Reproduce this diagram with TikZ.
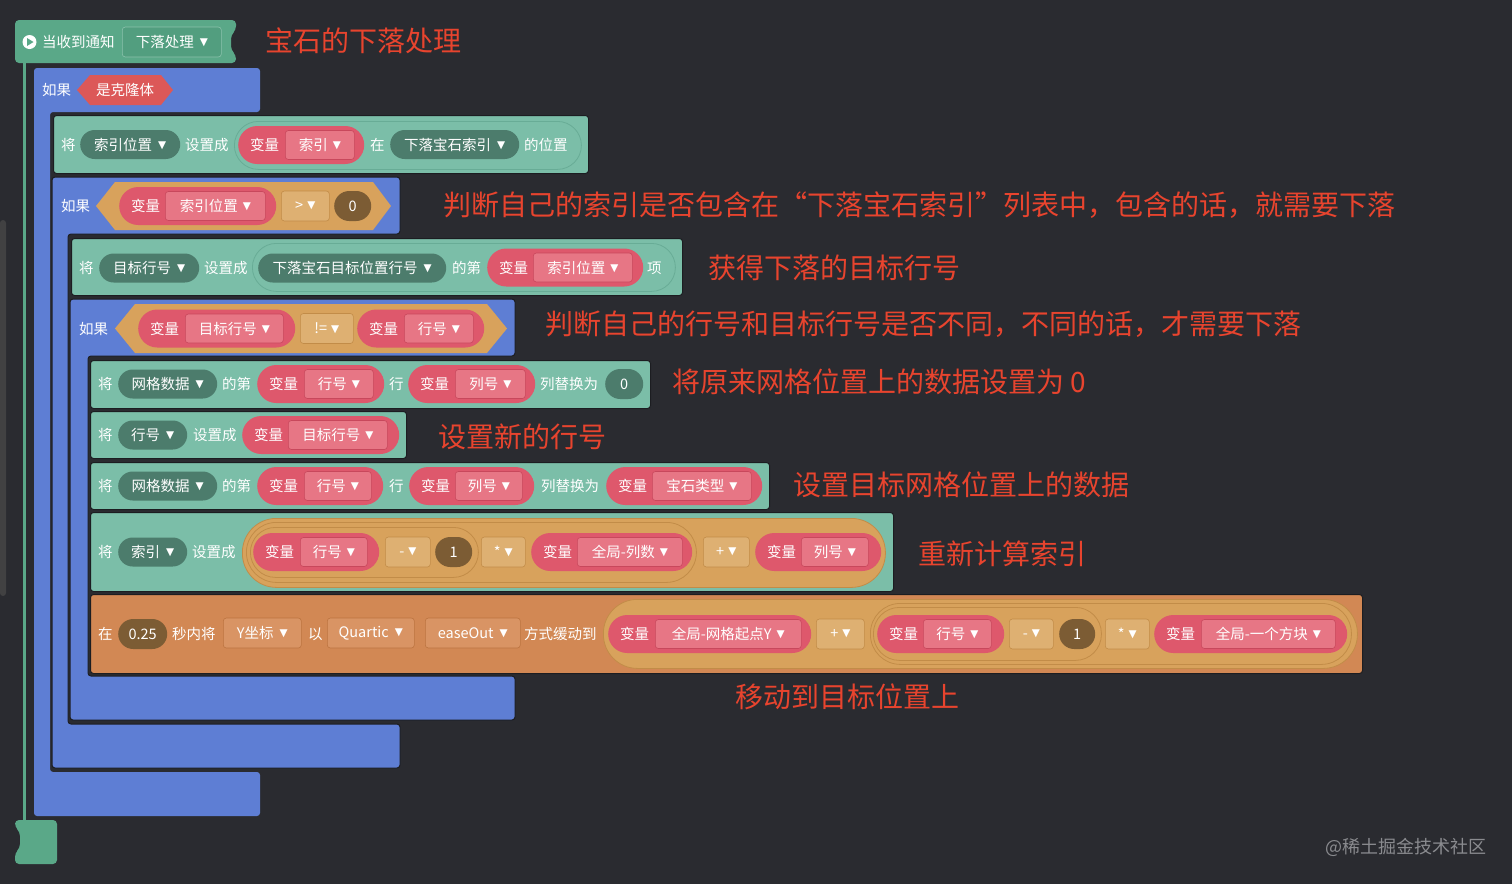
\documentclass[tikz,border=0pt]{standalone}
\usepackage{fontspec}
\setmainfont{Noto Sans CJK SC}
\newfontfamily\symf{DejaVu Sans}
\usepackage{tikz}
\newcommand\blkfont{\fontsize{14.5}{17}\selectfont}
\newcommand\dnarrow{\raisebox{1.8pt}{\symf\fontsize{10.5}{11}\selectfont ▼}}
\definecolor{bgc}{RGB}{42,43,48}
\definecolor{shadowc}{RGB}{28,29,33}
\definecolor{hatc}{RGB}{90,168,136}
\definecolor{hatdd}{RGB}{82,158,127}
\definecolor{ctrlc}{RGB}{94,126,212}
\definecolor{datac}{RGB}{123,190,168}
\definecolor{dataring}{RGB}{104,172,150}
\definecolor{ddc}{RGB}{76,124,108}
\definecolor{varc}{RGB}{222,88,108}
\definecolor{varin}{RGB}{231,118,133}
\definecolor{varedge}{RGB}{200,72,92}
\definecolor{opc}{RGB}{216,162,92}
\definecolor{opbox}{RGB}{222,176,114}
\definecolor{opedge}{RGB}{194,140,72}
\definecolor{numc}{RGB}{124,92,52}
\definecolor{tweenc}{RGB}{210,136,84}
\definecolor{tweenbox}{RGB}{217,148,100}
\definecolor{tweenedge}{RGB}{188,116,64}
\definecolor{boolc}{RGB}{220,88,88}
\definecolor{notec}{RGB}{232,68,46}
\definecolor{markc}{RGB}{138,139,143}
\tikzset{
  stmt/.style={fill=datac, draw=shadowc, line width=1pt, rounded corners=3pt, inner sep=0pt, anchor=north west},
  ring/.style={fill=datac, draw=dataring, line width=0.8pt, inner sep=0pt, anchor=north west},
  opring/.style={fill=opc, draw=opedge, line width=0.8pt, inner sep=0pt, anchor=north west},
  word/.style={text=white, inner sep=0pt, anchor=west, font=\blkfont},
  ddown/.style={fill=ddc, rounded corners=14.5pt, minimum height=29pt, inner sep=0pt, anchor=west, text=white, font=\blkfont},
  varpill/.style={fill=varc, rounded corners=19pt, minimum height=38pt, inner sep=0pt, anchor=west},
  varbox/.style={fill=varin, draw=varedge, line width=0.6pt, rounded corners=3pt, minimum height=29pt, inner sep=0pt, anchor=west, text=white, font=\blkfont},
  opfield/.style={fill=opbox, draw=opedge, line width=0.6pt, rounded corners=3pt, minimum height=30pt, inner sep=0pt, anchor=west, text=white, font=\blkfont},
  twfield/.style={fill=tweenbox, draw=tweenedge, line width=0.6pt, rounded corners=3pt, minimum height=30pt, inner sep=0pt, anchor=west, text=white, font=\blkfont},
  numdot/.style={rounded corners=15pt, minimum height=30pt, inner sep=0pt, anchor=west, text=white, font=\blkfont},
  note/.style={text=notec, anchor=west, inner sep=0pt, font=\fontsize{28}{32}\selectfont}
}
\begin{document}
\begin{tikzpicture}[x=1pt,y=-1pt]
  \fill[bgc] (0,0) rectangle (1512,884);
  \useasboundingbox (0,0) rectangle (1512,884);
  \fill[black!60!bgc!80!white, rounded corners=3pt] (0,220) rectangle (6,596);

  % event hat block
  \fill[hatc, rounded corners=4pt] (15,20) -- (236,20) -- (236,30) -- (231,35) -- (231,50) -- (236,55) -- (236,63) -- (15,63) -- cycle;
  \fill[hatc] (23,60) rectangle (26,823);
  \fill[hatc, rounded corners=4pt] (15,820) -- (57,820) -- (57,864) -- (15,864) -- (15,853) -- (20,848) -- (20,832) -- (15,827) -- cycle;
  \node[circle, fill=white, minimum size=14pt, inner sep=0pt] (play) at (29.5,42) {};
  \fill[hatc] ([shift={(-2.5,-4)}]play.center) -- ([shift={(4,0)}]play.center) -- ([shift={(-2.5,4)}]play.center) -- cycle;
  \node[word] (evtlbl) at (42,42) {当收到通知};
  \node[fill=hatdd, draw=hatc!70!white, line width=0.6pt, rounded corners=3pt, minimum width=99pt, minimum height=30pt, inner sep=0pt, anchor=west, text=white, font=\blkfont] (evt) at (122,42) {下落处理\hspace{6pt}\dnarrow};

  % if blocks
  \fill[ctrlc, rounded corners=3pt] (34,68) -- (260,68) -- (260,112) -- (50,112) -- (50,772) -- (260,772) -- (260,816) -- (34,816) -- cycle;
  \filldraw[ctrlc, draw=shadowc, line width=1pt, rounded corners=3pt] (52,177) -- (400,177) -- (400,234) -- (68,234) -- (68,724) -- (400,724) -- (400,768) -- (52,768) -- cycle;
  \filldraw[ctrlc, draw=shadowc, line width=1pt, rounded corners=3pt] (70,299) -- (515,299) -- (515,356) -- (88,356) -- (88,676) -- (515,676) -- (515,720) -- (70,720) -- cycle;

  % conditions
  \fill[boolc] (77,90) -- (90,75) -- (161,75) -- (173,90) -- (161,105) -- (90,105) -- cycle;
  \node[word, anchor=center] (clone) at (125,90) {是克隆体};
  \fill[opc] (96,206) -- (115,182) -- (373,182) -- (391,206) -- (373,230) -- (115,230) -- cycle;
  \fill[opc] (115,328.5) -- (135,304) -- (487,304) -- (507,328.5) -- (487,353) -- (135,353) -- cycle;

  % statement blocks
  \node[stmt, minimum width=535pt, minimum height=58pt] (setpos) at (53,115) {};
  \node[stmt, minimum width=611pt, minimum height=57pt] (settgt) at (71,238) {};
  \node[stmt, minimum width=560pt, minimum height=48pt] (clear) at (90,360) {};
  \node[stmt, minimum width=316pt, minimum height=47pt] (setrow) at (90,411) {};
  \node[stmt, minimum width=679pt, minimum height=47pt] (fill) at (90,462) {};
  \node[stmt, minimum width=803pt, minimum height=79pt] (setidx) at (90,512) {};
  \node[stmt, fill=tweenc, minimum width=1272pt, minimum height=79pt] (tween) at (90,594) {};

  % reporter rings
  \node[ring, rounded corners=24pt, minimum width=347pt, minimum height=48pt] (r1) at (234,121) {};
  \node[ring, rounded corners=24pt, minimum width=423pt, minimum height=48pt] (r2) at (252,243) {};
  \node[opring, rounded corners=34pt, minimum width=643pt, minimum height=69pt] (dadd) at (242,518) {};
  \node[opring, rounded corners=30pt, minimum width=450pt, minimum height=60pt] (dmul) at (246,522) {};
  \node[opring, rounded corners=25pt, minimum width=228pt, minimum height=50pt] (dsub) at (250,527) {};
  \node[opring, rounded corners=34pt, minimum width=754pt, minimum height=69pt] (eadd) at (603,599) {};
  \node[opring, rounded corners=30pt, minimum width=481pt, minimum height=61pt] (emul) at (870,603) {};
  \node[opring, rounded corners=26pt, minimum width=228pt, minimum height=53pt] (esub) at (873,607) {};

  % plain words
  \foreach \x/\y/\t [count=\i] in {42/90/如果, 61/206/如果, 79/328.5/如果,
      61/145/将, 185/145/设置成, 370/145/在, 524/145/的位置,
      79/268/将, 204/268/设置成, 452/268/的第, 647/268/项,
      98/384/将, 222/384/的第, 389/384/行, 540/384/列替换为,
      98/435/将, 193/435/设置成,
      98/486/将, 222/486/的第, 389/486/行, 541/486/列替换为,
      98/552/将, 192/552/设置成,
      98/634/在, 172/634/秒内将, 308/634/以, 524/634/方式缓动到} {
    \node[word] (w\i) at (\x,\y) {\t};
  }

  % dropdowns
  \foreach \n/\x/\w/\y/\t in {1/80/100/144.5/索引位置, 2/390/129/144.5/下落宝石索引,
      3/99/100/268/目标行号, 4/258/188/268/下落宝石目标位置行号,
      5/118/99/384/网格数据, 6/118/69/435/行号, 7/118/99/486/网格数据, 8/118/69/552/索引} {
    \node[ddown, minimum width=\w pt] (d\n) at (\x,\y) {\t\hspace{6pt}\dnarrow};
  }

  % variables
  \foreach \n/\x/\w/\y/\ix/\iw/\t in {1/238/126/145/285/69/索引, 2/119/157/206/165/100/索引位置,
      3/487/156/267.5/533/99/索引位置, 4/138/157/328.5/185/98/目标行号, 5/357/127/328.5/404/69/行号,
      6/257/127/384/304/69/行号, 7/408/127/384/455/70/列号, 8/242/157/435/288/99/目标行号,
      9/257/126/486/304/67/行号, 10/409/125/486/455/67/列号, 11/606/156/486/652/99/宝石类型,
      12/253/126/552/300/67/行号, 13/531/161/552/577/105/全局-列数, 14/755/126/552/801/67/列号,
      15/608/203/634/655/146/全局-网格起点Y, 16/877/127/634/923/68/行号, 17/1154/193/634/1201/134/全局-一个方块} {
    \node[varpill, minimum width=\w pt] (v\n) at (\x,\y) {};
    \node[word] (vl\n) at ([xshift=12pt]v\n.west) {变量};
    \node[varbox, minimum width=\iw pt] (vb\n) at (\ix,\y) {\t\hspace{5pt}\dnarrow};
  }

  % operators and numbers
  \foreach \x/\w/\y/\t [count=\i] in {281/48/206/>, 300/53/328.5/!=, 385/45/552/-, 481/44/552/*,
      703/46/552/+, 816/48/634/+, 1009/44/634/-, 1105/44/634/*} {
    \node[opfield, minimum width=\w pt] (op\i) at (\x,\y) {\t\hspace{4pt}\dnarrow};
  }
  \foreach \x/\w/\y/\t/\c [count=\i] in {334/37/206/0/numc, 605/38/384/0/ddc, 435/37/552/1/numc,
      118/49/634/0.25/numc, 1059/36/634/1/numc} {
    \node[numdot, fill=\c, minimum width=\w pt] (num\i) at (\x,\y) {\t};
  }
  \foreach \x/\w/\t [count=\i] in {223/78/Y坐标, 327/87/Quartic, 425/95/easeOut} {
    \node[twfield, minimum width=\w pt] (tw\i) at (\x,633) {\t\hspace{6pt}\dnarrow};
  }

  % notes
  \node[note] (n1) at (265,41) {宝石的下落处理};
  \node[note] (n2) at (443,205) {判断自己的索引是否包含在“下落宝石索引”列表中，包含的话，就需要下落};
  \node[note] (n3) at (708,268) {获得下落的目标行号};
  \node[note] (n4) at (545,324) {判断自己的行号和目标行号是否不同，不同的话，才需要下落};
  \node[note] (n5) at (672,382) {将原来网格位置上的数据设置为 0};
  \node[note] (n6) at (438,437) {设置新的行号};
  \node[note] (n7) at (793,485) {设置目标网格位置上的数据};
  \node[note] (n8) at (918,554) {重新计算索引};
  \node[note] (n9) at (735,697) {移动到目标位置上};
  \node[anchor=west, inner sep=0pt, text=markc, font=\fontsize{18}{20}\selectfont] (mark) at (1325,847) {@稀土掘金技术社区};
\end{tikzpicture}
\end{document}
